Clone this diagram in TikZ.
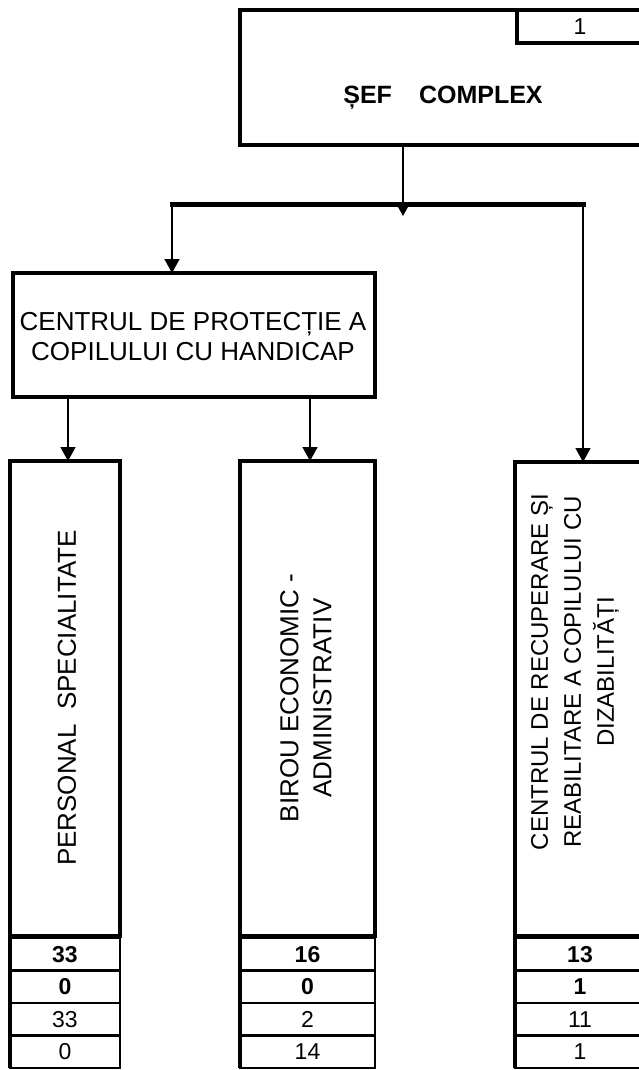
\documentclass[tikz,border=0pt]{standalone}
\usepackage{fontspec}
\setmainfont{Liberation Sans}
\usetikzlibrary{arrows.meta}
\begin{document}
\begin{tikzpicture}[x=1pt,y=-1pt,
  thickbox/.style={draw, line width=4pt, inner sep=0pt, outer sep=0pt, anchor=north west},
  rowbox/.style={draw, line width=2.4pt, inner sep=0pt, outer sep=0pt, anchor=north west, minimum height=32.5pt},
  numb/.style={font=\bfseries\fontsize{23}{26}\selectfont},
  numr/.style={font=\fontsize{23}{26}\selectfont},
  conn/.style={line width=1.6pt, -{Triangle[width=15pt,length=14pt]}},
  bar/.style={line width=5pt, line cap=rect},
  vtext/.style={rotate=90, align=center, font=\fontsize{26}{33}\selectfont}
]
\useasboundingbox (0,0) rectangle (639,1070);
\clip (0,0) rectangle (639,1070);

% top box
\node[thickbox, minimum width=440pt, minimum height=135pt] (sef) at (240,10) {};
\node[thickbox, minimum width=160pt, minimum height=33pt] (nbox) at (517,10) {};
\node[anchor=base, font=\fontsize{23}{26}\selectfont] (nlab) at (580,35) {1};
\node[anchor=base, font=\bfseries\fontsize{25}{30}\selectfont] (seflab) at (443,103) {ȘEF\hspace{27pt}COMPLEX};

% second level
\node[thickbox, minimum width=362pt, minimum height=124pt] (cpc) at (13,273) {};
\node[align=center, font=\fontsize{26}{30}\selectfont] (cpclab) at (193,337) {CENTRUL DE PROTECȚIE A\\COPILULUI CU HANDICAP};

% tall boxes
\node[thickbox, minimum width=110pt, minimum height=475pt] (ps) at (10,461) {};
\node[thickbox, minimum width=135pt, minimum height=475pt] (be) at (240,461) {};
\node[thickbox, minimum width=130pt, minimum height=474pt] (cr) at (515,462) {};

\node[vtext] (pslab) at (67,698) {PERSONAL\ \ SPECIALITATE};
\node[vtext] (belab) at (306,698) {BIROU ECONOMIC -\\ADMINISTRATIV};
\node[vtext, font=\fontsize{24}{33}\selectfont] (crlab) at (575,672) {CENTRUL DE RECUPERARE ȘI\\REABILITARE A COPILULUI CU\\DIZABILITĂȚI};

% number rows
\node[rowbox, minimum width=110pt] (ps1) at (10,938) {};
\node[rowbox, minimum width=110pt] (ps2) at (10,970.5) {};
\node[rowbox, minimum width=110pt] (ps3) at (10,1003) {};
\node[rowbox, minimum width=110pt] (ps4) at (10,1035.5) {};
\draw[line width=4pt] (ps.south west) -- (ps4.south west);
\node[numb] (ps1t) at (ps1) {33};
\node[numb] (ps2t) at (ps2) {0};
\node[numr] (ps3t) at (ps3) {33};
\node[numr] (ps4t) at (ps4) {0};

\node[rowbox, minimum width=135pt] (be1) at (240,938) {};
\node[rowbox, minimum width=135pt] (be2) at (240,970.5) {};
\node[rowbox, minimum width=135pt] (be3) at (240,1003) {};
\node[rowbox, minimum width=135pt] (be4) at (240,1035.5) {};
\draw[line width=4pt] (be.south west) -- (be4.south west);
\node[numb] (be1t) at (be1) {16};
\node[numb] (be2t) at (be2) {0};
\node[numr] (be3t) at (be3) {2};
\node[numr] (be4t) at (be4) {14};

\node[rowbox, minimum width=130pt] (cr1) at (515,938) {};
\node[rowbox, minimum width=130pt] (cr2) at (515,970.5) {};
\node[rowbox, minimum width=130pt] (cr3) at (515,1003) {};
\node[rowbox, minimum width=130pt] (cr4) at (515,1035.5) {};
\draw[line width=4pt] (cr.south west) -- (cr4.south west);
\node[numb] (cr1t) at (cr1) {13};
\node[numb] (cr2t) at (cr2) {1};
\node[numr] (cr3t) at (cr3) {11};
\node[numr] (cr4t) at (cr4) {1};

% connectors
\coordinate (bl) at (172,204);
\coordinate (br) at (583,204);
\coordinate (mtip) at (403,216);
\coordinate (c1) at (68,0);
\coordinate (c2) at (310,0);
\draw[bar] (bl) -- (br);
\draw[conn] (sef.south -| mtip) -- (mtip);
\draw[conn] (bl) -- (bl |- cpc.north);
\draw[conn] (br) -- (br |- cr.north);
\draw[conn] (cpc.south -| c1) -- (ps.north -| c1);
\draw[conn] (cpc.south -| c2) -- (be.north -| c2);
\end{tikzpicture}
\end{document}
